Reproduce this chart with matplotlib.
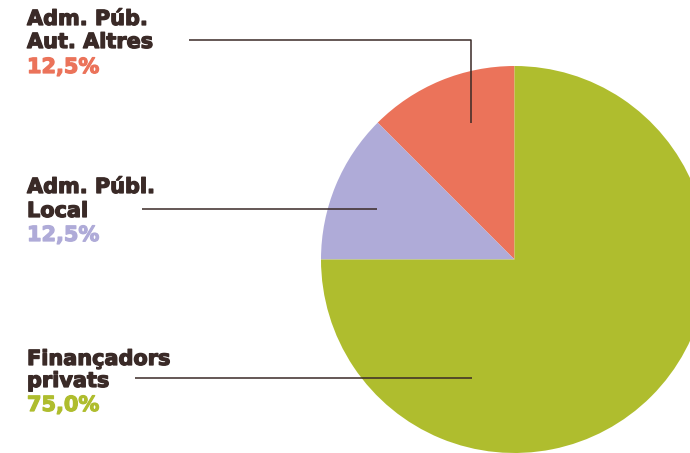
import matplotlib
matplotlib.use("Agg")
import matplotlib.pyplot as plt
import matplotlib.patheffects as pe

# data
labels = [["Adm. Púb.", "Aut. Altres"], ["Adm. Públ.", "Local"], ["Finançadors", "privats"]]
shares = [12.5, 12.5, 75.0]
pct_text = ["12,5%", "12,5%", "75,0%"]
colors = ["#EB735A", "#AFABD8", "#AFBD2E"]
ink = "#3A2A27"

W, H = 690, 453
fig = plt.figure(figsize=(W / 100, H / 100), dpi=100)
ax = fig.add_axes([0, 0, 1, 1])

cx, cy, r = 514.5, H - 259.5, 193.5
ax.pie(shares, colors=colors, startangle=90, counterclock=True,
       center=(cx, cy), radius=r, frame=True,
       wedgeprops=dict(linewidth=0))
ax.set_xlim(0, W)
ax.set_ylim(0, H)
ax.set_aspect("equal")
ax.axis("off")

def y(p):  # pixel row -> data y
    return H - p

def heavy(col):
    # thicken the bold glyphs a little, the original uses a black weight
    return [pe.withStroke(linewidth=0.9, foreground=col)]

# text blocks: baselines in pixel rows
baselines = [(25, 48, 73), (193, 217, 241), (365, 387, 411)]
font = dict(family="DejaVu Sans", fontweight="bold", fontsize=15)
for lab, pct, col, bl in zip(labels, pct_text, colors, baselines):
    ax.text(27, y(bl[0]), lab[0], color=ink, va="baseline", ha="left", path_effects=heavy(ink), **font)
    ax.text(27, y(bl[1]), lab[1], color=ink, va="baseline", ha="left", path_effects=heavy(ink), **font)
    ax.text(27, y(bl[2]), pct, color=col, va="baseline", ha="left", path_effects=heavy(col), **font)

# leader lines
lw = 1.1
ax.plot([189, 470.5, 470.5], [y(40), y(40), y(122.5)], color=ink, lw=lw, solid_capstyle="butt")
ax.plot([142, 377], [y(208.5), y(208.5)], color=ink, lw=lw, solid_capstyle="butt")
ax.plot([135, 472], [y(377.7), y(377.7)], color=ink, lw=lw, solid_capstyle="butt")

fig.savefig("out.png", dpi=100)
